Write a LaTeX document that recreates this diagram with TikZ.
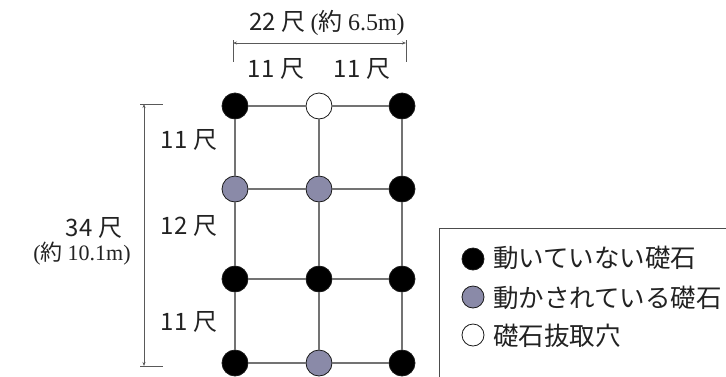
\documentclass[tikz,border=0pt]{standalone}
\usepackage{fontspec}
\setmainfont{Noto Sans CJK JP}
\newfontfamily\latinserif{Liberation Serif}
\usetikzlibrary{arrows.meta}
\definecolor{stonegray}{RGB}{138,138,168}
\definecolor{inkgray}{RGB}{34,34,34}

\begin{document}
\begin{tikzpicture}[x=1pt, y=-1pt,
    stone/.style={circle, draw=black!90, line width=0.8pt, minimum size=26pt, inner sep=0pt},
    fixed/.style={stone, fill=black},
    moved/.style={stone, fill=stonegray},
    hole/.style={stone, fill=white},
    keydot/.style={circle, draw=black!90, line width=0.8pt, minimum size=22pt, inner sep=0pt},
    lbl/.style={font=\fontsize{24}{24}\selectfont, text=inkgray, inner sep=0pt},
    dim/.style={draw=black!65, line width=0.8pt, {Stealth[length=4pt,width=3pt]}-{Stealth[length=4pt,width=3pt]}},
    tick/.style={draw=black!65, line width=0.8pt}]
    \useasboundingbox (0,0) rectangle (726,376);

    % stones
    \node[fixed] (1) at (235,106) {};
    \node[hole] (2) at (319,106) {};
    \node[fixed] (3) at (402,106) {};
    \node[moved] (4) at (235,189) {};
    \node[moved] (5) at (319,189) {};
    \node[fixed] (6) at (402,189) {};
    \node[fixed] (7) at (235,279) {};
    \node[fixed] (8) at (319,279) {};
    \node[fixed] (9) at (402,279) {};
    \node[fixed] (10) at (235,363) {};
    \node[moved] (11) at (319,363) {};
    \node[fixed] (12) at (402,363) {};

    \draw[black!55, line width=1.2pt] (1) -- (2);
    \draw[black!55, line width=1.2pt] (2) -- (3);
    \draw[black!55, line width=1.2pt] (4) -- (5);
    \draw[black!55, line width=1.2pt] (5) -- (6);
    \draw[black!55, line width=1.2pt] (7) -- (8);
    \draw[black!55, line width=1.2pt] (8) -- (9);
    \draw[black!55, line width=1.2pt] (10) -- (11);
    \draw[black!55, line width=1.2pt] (11) -- (12);
    \draw[black!55, line width=1.2pt] (1) -- (4);
    \draw[black!55, line width=1.2pt] (4) -- (7);
    \draw[black!55, line width=1.2pt] (7) -- (10);
    \draw[black!55, line width=1.2pt] (2) -- (5);
    \draw[black!55, line width=1.2pt] (5) -- (8);
    \draw[black!55, line width=1.2pt] (8) -- (11);
    \draw[black!55, line width=1.2pt] (3) -- (6);
    \draw[black!55, line width=1.2pt] (6) -- (9);
    \draw[black!55, line width=1.2pt] (9) -- (12);

    % width
    \coordinate (wl) at (233,43);
    \coordinate (wr) at (406,43);
    \draw[tick] (233,40) -- (233,62);
    \draw[tick] (406,40) -- (406,62);
    \draw[dim] (wl) -- (wr);
    \node[lbl] (width) at (327,23) {22 尺 {\latinserif(}約 {\latinserif 6.5m)}};
    \node[lbl] (w1) at (276,69) {11 尺};
    \node[lbl] (w2) at (362,69) {11 尺};

    % length
    \coordinate (lt) at (144,104);
    \coordinate (lb) at (144,366);
    \draw[tick] (140,104) -- (163,104);
    \draw[tick] (140,366) -- (163,366);
    \draw[dim] (lt) -- (lb);
    \node[lbl] (l1) at (189,140) {11 尺};
    \node[lbl] (l2) at (189,226) {12 尺};
    \node[lbl] (l3) at (189,322) {11 尺};
    \node[lbl] (len) at (94,228) {34 尺};
    \node[lbl, font=\fontsize{22}{22}\selectfont] (lenm) at (82,254) {{\latinserif(}約 {\latinserif 10.1m)}};

    % legend
    \draw[black!70, line width=0.8pt] (439,228) rectangle (760,400);
    \node[keydot, fill=black] (k1) at (473,259) {};
    \node[keydot, fill=stonegray] (k2) at (473,297) {};
    \node[keydot, fill=white] (k3) at (473,335) {};
    \node[lbl, font=\fontsize{25.5}{25.5}\selectfont, anchor=west] (t1) at (493,258) {動いていない礎石};
    \node[lbl, font=\fontsize{25.5}{25.5}\selectfont, anchor=west] (t2) at (493,298) {動かされている礎石};
    \node[lbl, font=\fontsize{25.5}{25.5}\selectfont, anchor=west] (t3) at (493,336) {礎石抜取穴};
\end{tikzpicture}
\end{document}
